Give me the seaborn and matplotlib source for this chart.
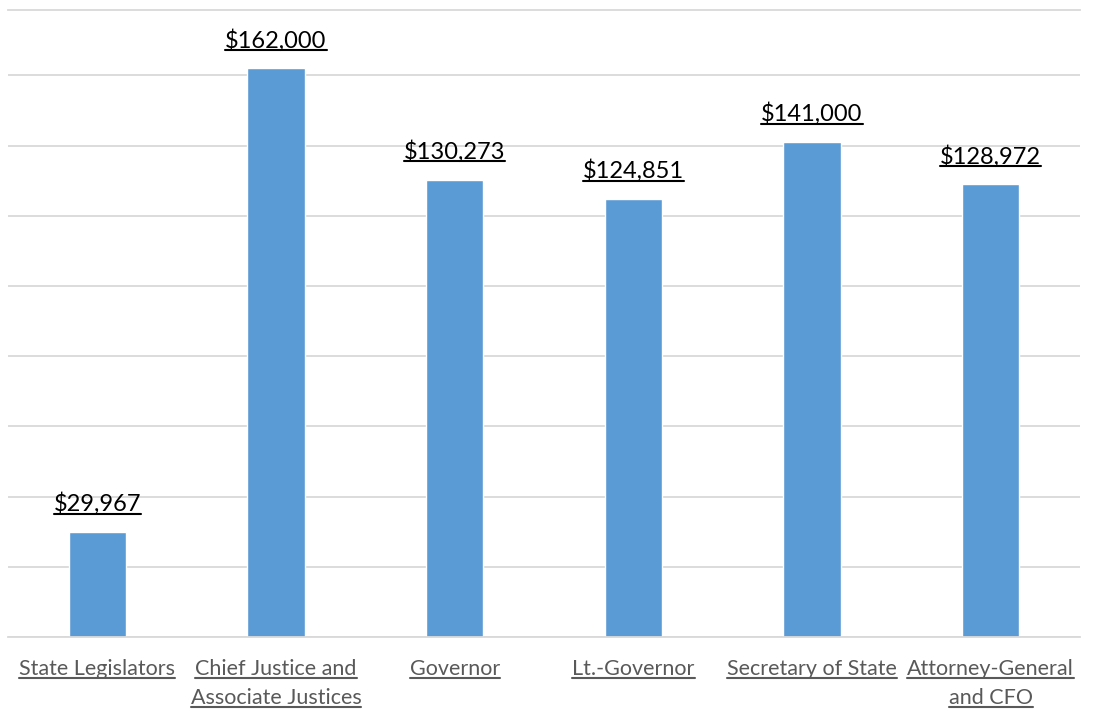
import matplotlib
matplotlib.use("Agg")
import matplotlib.pyplot as plt
from matplotlib.lines import Line2D
import seaborn as sns
import pandas as pd

# chart data
offices = ["State Legislators", "Chief Justice and\nAssociate Justices", "Governor",
           "Lt.-Governor", "Secretary of State", "Attorney-General\nand CFO"]
salaries = [29967, 162000, 130273, 124851, 141000, 128972]

sns.set_theme(style="white")
plt.rcParams['font.family'] = ['Lato', 'DejaVu Sans']

df = pd.DataFrame({"office": offices, "salary": salaries})

fig = plt.figure(figsize=(10.99, 7.13), dpi=100)
ax = fig.add_axes([8 / 1099, 76 / 713, 1072 / 1099, 627 / 713])

sns.barplot(data=df, x="office", y="salary", color="#5B9BD5", saturation=1,
            width=0.32, ax=ax, zorder=2)

ax.set_ylim(0, 178600)
ax.set_yticks(range(0, 160001, 20000))
ax.yaxis.grid(True, color="#D9D9D9", linewidth=1.3, zorder=0)
ax.set_yticklabels([])
ax.tick_params(axis="y", length=0)
ax.set_xlim(-0.5, len(offices) - 0.5)

for side in ["left", "right"]:
    ax.spines[side].set_visible(False)
for side in ["bottom", "top"]:
    ax.spines[side].set_color("#D9D9D9")
    ax.spines[side].set_linewidth(1.3)

ax.set_xlabel("")
ax.set_ylabel("")
ax.set_xticks(range(len(offices)))
ax.set_xticklabels([])
ax.tick_params(axis="x", length=0)

# category labels, one text per line so each line can be underlined
underlined = []
for i, name in enumerate(offices):
    for j, line in enumerate(name.split("\n")):
        t = ax.annotate(line, xy=(i, 0), xycoords="data",
                        xytext=(0, -16 - j * 21), textcoords="offset points",
                        ha="center", va="top", fontsize=15.5, color="#595959")
        underlined.append((t, "#595959"))

# value labels on top of bars
value_labels = [f"${v:,}" for v in salaries]
texts = ax.bar_label(ax.containers[0], labels=value_labels, padding=12,
                     fontsize=17, color="black")
for t in texts:
    underlined.append((t, "black"))

fig.canvas.draw()
renderer = fig.canvas.get_renderer()
for t, c in underlined:
    bb = t.get_window_extent(renderer)
    y = bb.y0 + 1.5
    fig.add_artist(Line2D([bb.x0, bb.x1], [y, y], color=c, linewidth=1.5,
                          transform=None))

fig.savefig("out.png", dpi=100)
